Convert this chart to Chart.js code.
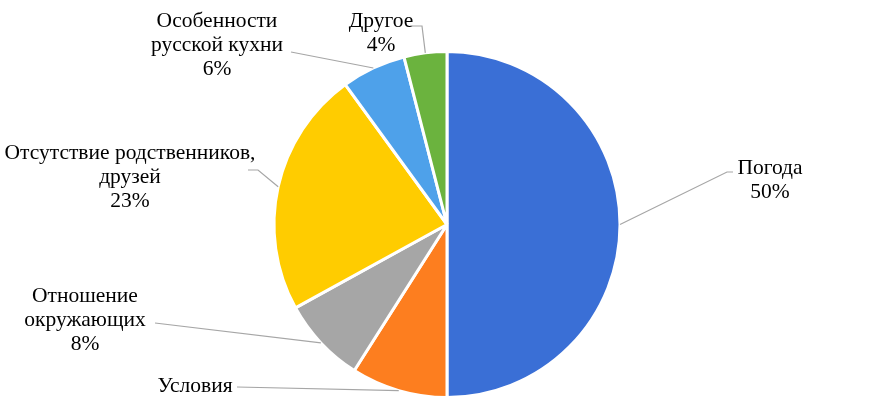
<!DOCTYPE html>
<html>
<head>
<meta charset="utf-8">
<script src="https://cdn.jsdelivr.net/npm/chart.js@4.4.0/dist/chart.umd.min.js"></script>
<style>
  html, body { margin: 0; padding: 0; background: #fff; }
  #wrap { width: 894px; height: 399px; position: relative; }
</style>
</head>
<body>
<div id="wrap"><canvas id="pie-chart"></canvas></div>
<script>
// Data
const categories = ['Погода', 'Условия', 'Отношение окружающих', 'Отсутствие родственников, друзей', 'Особенности русской кухни', 'Другое'];
const values = [50, 9, 8, 23, 6, 4];
const sliceColors = ['#3a6fd6', '#fd7e1f', '#a6a6a6', '#ffcc00', '#4ea1ea', '#6bb33e'];

// Label text lines as shown (the Условия percent is cut off at the bottom)
const labelLines = [
    ['Погода', '50%'],
    ['Условия'],
    ['Отношение', 'окружающих', '8%'],
    ['Отсутствие родственников,', 'друзей', '23%'],
    ['Особенности', 'русской кухни', '6%'],
    ['Другое', '4%']
];

// Label placement: text centre x, first line y, leader end point, elbow direction
const labelLayout = [
    { x: 770, y: 168, ex: 733, ey: 172, elbow: -6 },
    { x: 195, y: 386, ex: 237, ey: 387, elbow: 0 },
    { x: 85, y: 296, ex: 155, ey: 323, elbow: 0 },
    { x: 130, y: 153, ex: 248, ey: 170, elbow: 10 },
    { x: 217, y: 21, ex: 291, ey: 52, elbow: 0 },
    { x: 381, y: 21, ex: 412, ey: 26, elbow: 10 }
];

const outsideLabels = {
    id: 'outsideLabels',
    afterDatasetsDraw(chart) {
        const ctx = chart.ctx;
        const arcs = chart.getDatasetMeta(0).data;
        ctx.save();
        arcs.forEach((arc, i) => {
            const p = arc.getProps(['x', 'y', 'startAngle', 'endAngle', 'outerRadius'], true);
            const mid = (p.startAngle + p.endAngle) / 2;
            const ax = p.x + Math.cos(mid) * p.outerRadius;
            const ay = p.y + Math.sin(mid) * p.outerRadius;
            const L = labelLayout[i];

            ctx.strokeStyle = '#a6a6a6';
            ctx.lineWidth = 1.2;
            ctx.beginPath();
            ctx.moveTo(ax, ay);
            if (L.elbow) {
                ctx.lineTo(L.ex + L.elbow, L.ey);
            }
            ctx.lineTo(L.ex, L.ey);
            ctx.stroke();

            ctx.fillStyle = '#000';
            ctx.font = '21.5px "Liberation Serif", "Times New Roman", serif';
            ctx.textAlign = 'center';
            ctx.textBaseline = 'middle';
            labelLines[i].forEach((line, k) => {
                ctx.fillText(line, L.x, L.y + k * 24);
            });
        });
        ctx.restore();
    }
};

new Chart(document.getElementById('pie-chart').getContext('2d'), {
    type: 'pie',
    data: {
        labels: categories,
        datasets: [{
            data: values,
            backgroundColor: sliceColors,
            borderColor: '#ffffff',
            borderWidth: 3,
            hoverOffset: 0
        }]
    },
    options: {
        responsive: true,
        maintainAspectRatio: false,
        animation: false,
        layout: { padding: { top: 50, bottom: 0, left: 0, right: 0 } },
        plugins: {
            legend: { display: false },
            tooltip: { enabled: false }
        }
    },
    plugins: [outsideLabels]
});
</script>
</body>
</html>
